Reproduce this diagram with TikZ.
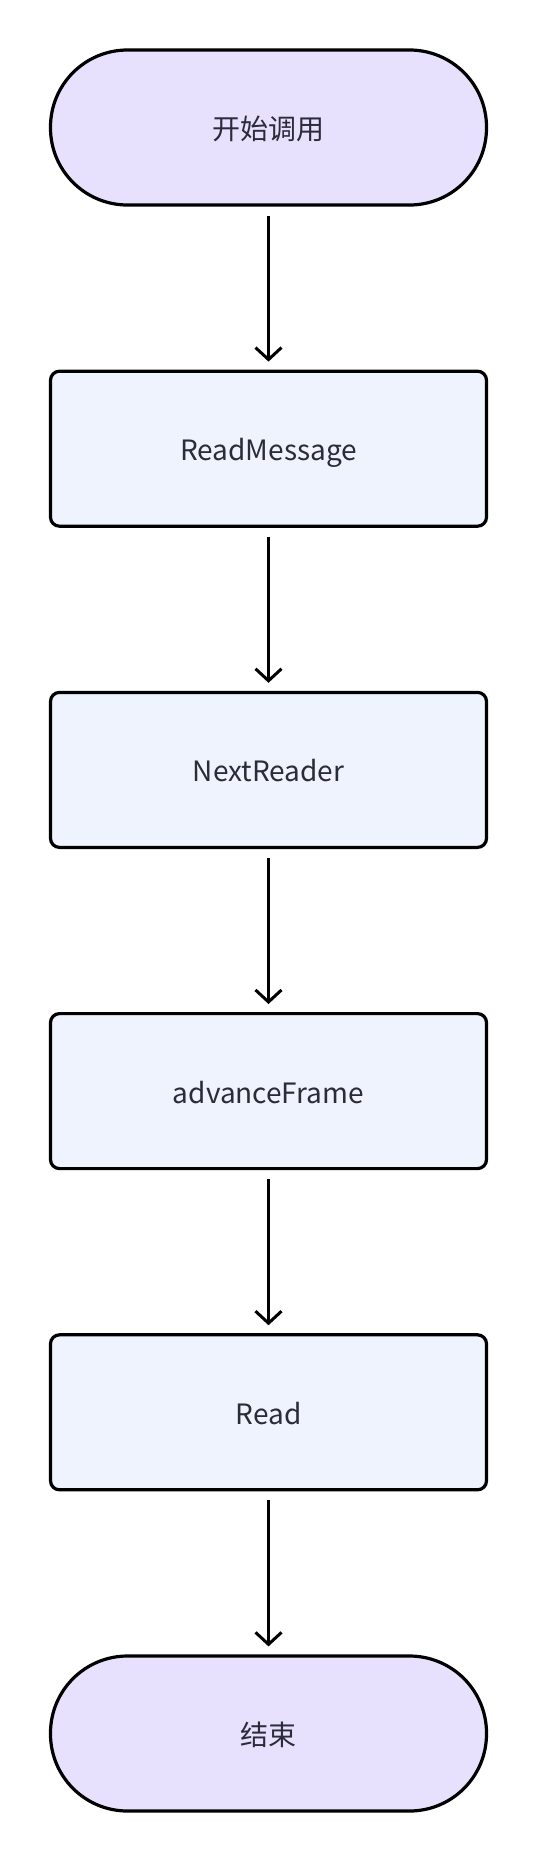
\documentclass[tikz,border=0pt]{standalone}
\usepackage{fontspec}
\setmainfont{Noto Sans CJK SC}
\usepackage{xcolor}
\usetikzlibrary{arrows.meta,positioning}
\definecolor{termfill}{HTML}{E8E1FD}
\definecolor{stepfill}{HTML}{EEF3FD}
\definecolor{labeltext}{HTML}{2B2B3A}

\begin{document}
\begin{tikzpicture}[
  x=1pt, y=1pt,
  node distance=163pt,
  terminal/.style={rectangle, rounded corners=77pt, draw=black, line width=3.2pt, fill=termfill,
    minimum width=436pt, minimum height=155pt, text=labeltext, text height=28pt, text depth=4pt,
    font=\fontsize{28}{34}\selectfont},
  stepbox/.style={rectangle, rounded corners=9pt, draw=black, line width=3.2pt, fill=stepfill,
    minimum width=436pt, minimum height=155pt, text=labeltext, text height=28pt, text depth=4pt,
    font=\fontsize{28}{34}\selectfont},
  flow/.style={-{Straight Barb[length=12pt, width=26pt, line width=3pt]}, line width=3pt,
    shorten <=9pt, shorten >=8pt}
]
\useasboundingbox (0,0) rectangle (538,-1864);

\node[terminal] (start) at (268.5,-127.5) {开始调用};
\node[stepbox, below=of start] (readmsg) {ReadMessage};
\node[stepbox, below=of readmsg] (nextrd) {NextReader};
\node[stepbox, below=of nextrd] (advframe) {advanceFrame};
\node[stepbox, below=of advframe] (rd) {Read};
\node[terminal, below=of rd] (stop) {结束};

\draw[flow] (start) -- (readmsg);
\draw[flow] (readmsg) -- (nextrd);
\draw[flow] (nextrd) -- (advframe);
\draw[flow] (advframe) -- (rd);
\draw[flow] (rd) -- (stop);
\end{tikzpicture}
\end{document}
